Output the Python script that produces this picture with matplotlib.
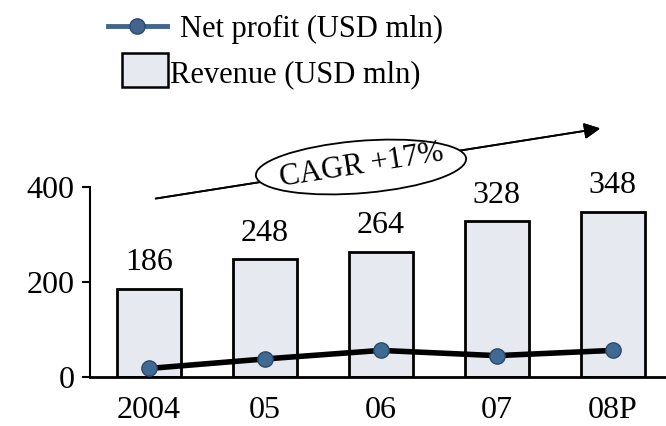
import matplotlib.pyplot as plt
from matplotlib.lines import Line2D
from matplotlib.patches import Rectangle, Ellipse

years = ["2004", "05", "06", "07", "08P"]
revenue = [186, 248, 264, 328, 348]
net_profit = [18, 38, 56, 45, 56]

plt.rcParams['font.family'] = ['Liberation Serif', 'DejaVu Serif']

W, H = 666, 426
fig = plt.figure(figsize=(6.66, 4.26), dpi=100)
ax = fig.add_axes([0.135, 0.115, 0.865, 0.446])

x = range(len(years))
ax.bar(x, revenue, width=0.55, color='#e6e9f0', edgecolor='black', linewidth=2, zorder=2)
ax.plot(x, net_profit, color='black', linewidth=4, zorder=3)
ax.plot(x, net_profit, linestyle='none', marker='o', markersize=11,
        markerfacecolor='#3f6a94', markeredgecolor='#2b4a6a', markeredgewidth=1, zorder=4)

for i, v in enumerate(revenue):
    ax.text(i, v + 55, str(v), ha='center', va='center', fontsize=23)

ax.set_xlim(-0.51, 4.46)
ax.set_ylim(0, 400)
ax.set_yticks([0, 200, 400])
ax.set_xticks(list(x))
ax.set_xticklabels(years)
ax.tick_params(axis='y', labelsize=23, length=6, width=1.5, direction='out', pad=5)
ax.tick_params(axis='x', labelsize=23, length=0, pad=14)
ax.spines['top'].set_visible(False)
ax.spines['right'].set_visible(False)
ax.spines['left'].set_linewidth(1.5)
ax.spines['bottom'].set_linewidth(2)

# CAGR arrow and bubble
fig.add_artist(plt.annotate("", xy=(603 / W, 1 - 128 / H),
                            xytext=(153 / W, 1 - 199 / H),
                            xycoords='figure fraction', textcoords='figure fraction',
                            arrowprops=dict(arrowstyle='-|>', color='black', lw=1.3,
                                            mutation_scale=24), zorder=4))
fig.add_artist(Ellipse((361 / W, 1 - 167 / H), 212 / W, 52 / H, angle=8,
                       transform=fig.transFigure, facecolor='white',
                       edgecolor='black', linewidth=1.3, zorder=5))
fig.text(362 / W, 1 - 166 / H, "CAGR +17%", ha='center', va='center',
         fontsize=22, rotation=9, zorder=6)

# legend
fig.add_artist(Line2D([108 / W, 167 / W], [1 - 26 / H, 1 - 26 / H], transform=fig.transFigure,
                      color='#41658c', linewidth=3.5))
fig.add_artist(Line2D([137 / W], [1 - 26 / H], transform=fig.transFigure, marker='o',
                      markersize=11, color='#41658c', markeredgecolor='#2b4a6a'))
fig.text(180 / W, 1 - 29 / H, "Net profit (USD mln)", ha='left', va='center', fontsize=22)
fig.add_artist(Rectangle((122 / W, 1 - 87 / H), 46 / W, 34 / H, transform=fig.transFigure,
                         facecolor='#e6e9f0', edgecolor='black', linewidth=1.8))
fig.text(170 / W, 1 - 75 / H, "Revenue (USD mln)", ha='left', va='center', fontsize=22)

fig.savefig("out.png", dpi=100)
